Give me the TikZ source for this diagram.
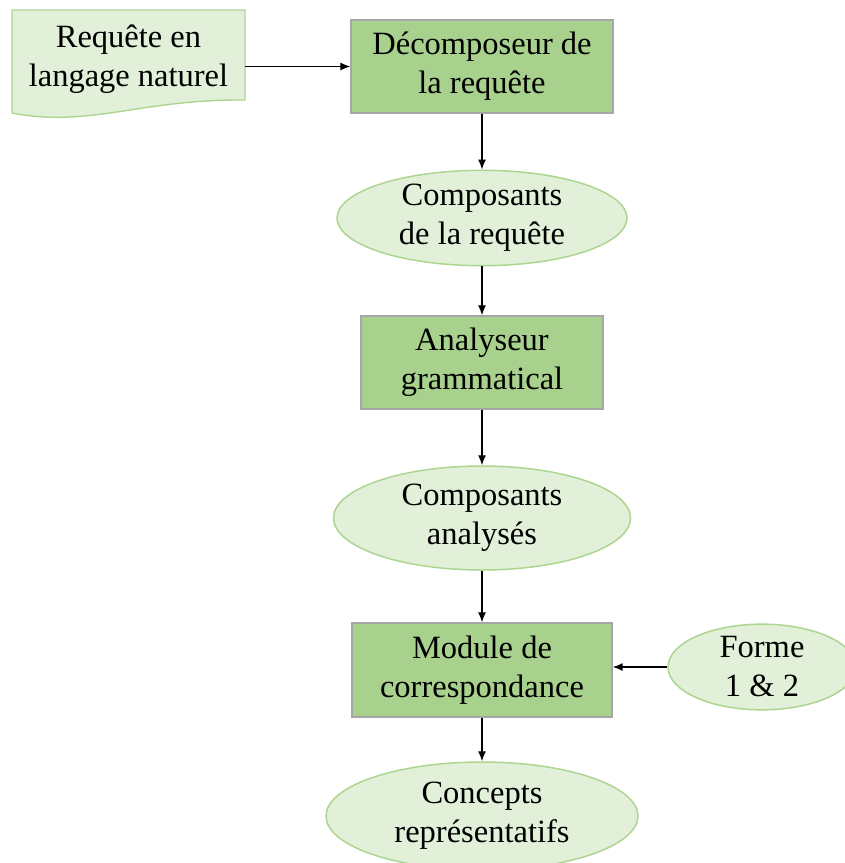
\documentclass[tikz,border=0pt]{standalone}
\usepackage{fontspec}
\setmainfont{Liberation Serif}
\usepackage{tikz}
\usetikzlibrary{arrows.meta, shapes.geometric}

\definecolor{boxgreen}{HTML}{A9D18E}
\definecolor{palegreen}{HTML}{E2F0D9}
\definecolor{edgegreen}{HTML}{ACD690}
\definecolor{boxedge}{HTML}{A6A6A6}

\begin{document}
\begin{tikzpicture}[x = 1pt, y = -1pt,
  every node/.style = {font = \fontsize{32.5}{39}\selectfont, align = center, inner sep = 0pt},
  module/.style = {draw = boxedge, fill = boxgreen, line width = 1.4pt, rectangle},
  result/.style = {draw = edgegreen, fill = palegreen, line width = 1.5pt, ellipse},
  flow/.style = {line width = 1.3pt, -{Latex[length = 10pt, width = 8pt]}}]
\clip (0,0) rectangle (845,863);

% input document
\draw[draw = edgegreen, fill = palegreen, line width = 1.4pt]
  (12,10) -- (245,10) -- (245,100) .. controls (140,99) and (90,128) .. (12,113) -- cycle;
\node[minimum width = 233pt, minimum height = 100pt] (req) at (128.5,59) {Requête en\\langage naturel};

\node[module, minimum width = 262pt, minimum height = 93pt] (dec) at (482,66.5) {Décomposeur de\\la requête};
\node[result, minimum width = 290pt, minimum height = 90pt] (comp) at (482,218) {Composants\\de la requête};
\node[module, minimum width = 242pt, minimum height = 93pt] (ana) at (482,362.5) {Analyseur\\grammatical};
\node[result, minimum width = 297pt, minimum height = 104pt] (compa) at (482,518) {Composants\\analysés};
\node[module, minimum width = 260pt, minimum height = 94pt] (mod) at (482,670) {Module de\\correspondance};
\node[result, minimum width = 188pt, minimum height = 80pt] (forme) at (762,667) {Forme\\1 \& 2};
\node[result, minimum width = 312pt, minimum height = 108pt] (conc) at (482,816) {Concepts\\représentatifs};

\draw[flow] (req.east |- dec.west) -- (dec.west);
\draw[flow] (dec) -- (comp);
\draw[flow] (comp) -- (ana);
\draw[flow] (ana) -- (compa);
\draw[flow] (compa) -- (mod);
\draw[flow] (forme.west) -- (mod.east |- forme.west);
\draw[flow] (mod) -- (conc);
\end{tikzpicture}
\end{document}
